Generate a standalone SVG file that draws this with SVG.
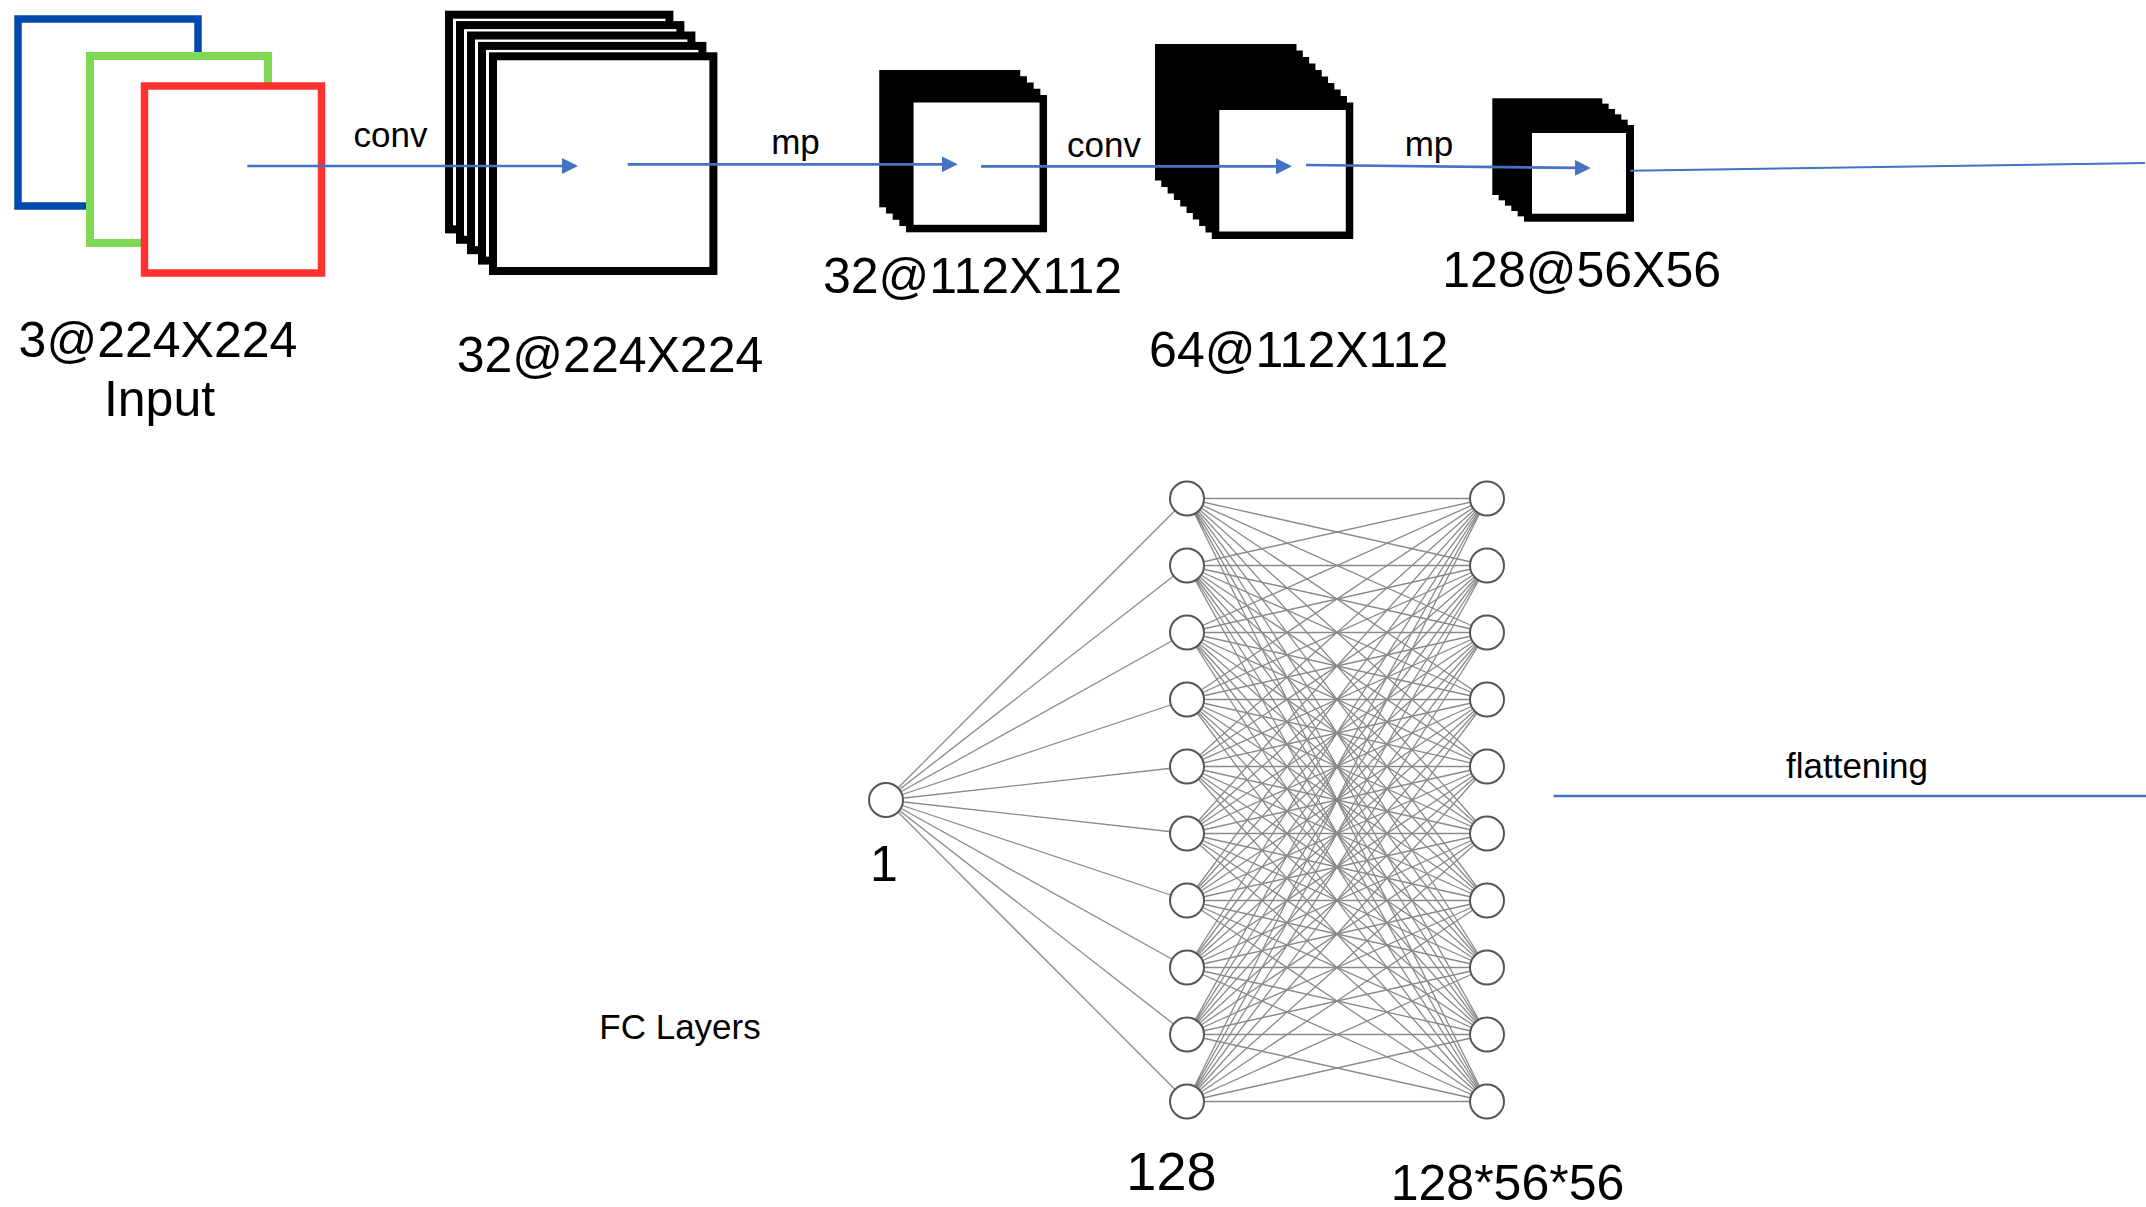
<svg xmlns="http://www.w3.org/2000/svg" width="2146" height="1207" viewBox="0 0 2146 1207">
<style>
text{font-family:"Liberation Sans",Arial,sans-serif;fill:#000;text-anchor:middle}
.big{font-size:50px}
.sm{font-size:35px}
.f1{fill:#fff;stroke:#000;stroke-width:8}
.f2{fill:#fff;stroke:#000;stroke-width:7.5}
.arr{stroke:#4472C4;stroke-width:2.7;fill:none;marker-end:url(#ah)}
.ln{stroke:#4472C4;fill:none}
.e{stroke:#8a8a8a;stroke-width:1.3;fill:none}
.nd{fill:#fff;stroke:#555;stroke-width:2}
</style>
<defs>
<marker id="ah" markerUnits="userSpaceOnUse" markerWidth="16" markerHeight="16" refX="4" refY="8" orient="auto">
<path d="M0,0 L16,8 L0,16 Z" fill="#4472C4"/>
</marker>
<linearGradient id="fade" x1="0" y1="0" x2="0" y2="1">
<stop offset="0" stop-color="#4472C4"/>
<stop offset="0.5" stop-color="#4472C4" stop-opacity="0.8"/>
<stop offset="1" stop-color="#4472C4" stop-opacity="0"/>
</linearGradient>
</defs>
<rect width="2146" height="1207" fill="#fff"/>

<g id="input">
<rect x="18" y="19" width="180" height="187" fill="#fff" stroke="#004AAD" stroke-width="7.5"/>
<rect x="90" y="56" width="178" height="187" fill="#fff" stroke="#7ED957" stroke-width="8"/>
<rect x="144.5" y="86" width="177" height="187" fill="#fff" stroke="#FF3131" stroke-width="7.5"/>
<text class="big" x="158" y="357">3@224X224</text>
<text class="big" x="159.5" y="416">Input</text>
</g>

<g id="conv1">
<rect class="f1" x="449" y="14.7" width="220.4" height="214.7"/>
<rect class="f1" x="460" y="25.1" width="220.4" height="214.7"/>
<rect class="f1" x="471" y="35.5" width="220.4" height="214.7"/>
<rect class="f1" x="482" y="45.9" width="220.4" height="214.7"/>
<rect class="f1" x="493" y="56.3" width="220.4" height="214.7"/>
<text class="big" x="610" y="372">32@224X224</text>
</g>

<g id="pool1">
<rect class="f2" x="883" y="73.75" width="133.5" height="129.8"/>
<rect class="f2" x="889.7" y="80" width="133.5" height="129.8"/>
<rect class="f2" x="896.4" y="86.25" width="133.5" height="129.8"/>
<rect class="f2" x="903.1" y="92.5" width="133.5" height="129.8"/>
<rect class="f2" x="909.8" y="98.75" width="133.5" height="129.8"/>
<text class="big" x="972.5" y="293">32@112X112</text>
</g>

<g id="conv2">
<rect class="f2" x="1158.75" y="47.75" width="134" height="129"/>
<rect class="f2" x="1165.06" y="54.25" width="134" height="129"/>
<rect class="f2" x="1171.37" y="60.75" width="134" height="129"/>
<rect class="f2" x="1177.68" y="67.25" width="134" height="129"/>
<rect class="f2" x="1183.99" y="73.75" width="134" height="129"/>
<rect class="f2" x="1190.3" y="80.25" width="134" height="129"/>
<rect class="f2" x="1196.61" y="86.75" width="134" height="129"/>
<rect class="f2" x="1202.92" y="93.25" width="134" height="129"/>
<rect class="f2" x="1209.23" y="99.75" width="134" height="129"/>
<rect class="f2" x="1215.54" y="106.25" width="134" height="129"/>
<text class="big" x="1298.7" y="366.7">64@112X112</text>
</g>

<g id="pool2">
<rect class="f1" x="1496.3" y="102.3" width="102" height="88.7"/>
<rect class="f1" x="1502.64" y="107.64" width="102" height="88.7"/>
<rect class="f1" x="1508.98" y="112.98" width="102" height="88.7"/>
<rect class="f1" x="1515.32" y="118.32" width="102" height="88.7"/>
<rect class="f1" x="1521.66" y="123.66" width="102" height="88.7"/>
<rect class="f1" x="1528" y="129" width="102" height="88.7"/>
<text class="big" x="1581.7" y="286.7">128@56X56</text>
</g>

<g id="connectors">
<line class="arr" x1="247.3" y1="166" x2="566" y2="166"/>
<line class="arr" x1="627.7" y1="164.3" x2="945.8" y2="164.3"/>
<line class="arr" x1="981" y1="166.3" x2="1280" y2="166.3"/>
<line class="arr" x1="1306" y1="165" x2="1578.7" y2="167.9"/>
<line class="ln" stroke-width="2" x1="1630" y1="170.7" x2="2145" y2="163"/>
<line x1="2144.5" y1="157" x2="2144.5" y2="272" stroke="url(#fade)" stroke-width="2.5"/>
<line class="ln" stroke-width="2.7" x1="1553.6" y1="796" x2="2146" y2="796"/>
<text class="sm" x="390.5" y="147.3">conv</text>
<text class="sm" x="795.5" y="154">mp</text>
<text class="sm" x="1104" y="156.7">conv</text>
<text class="sm" x="1429" y="155.7">mp</text>
<text class="sm" x="1857" y="778">flattening</text>
</g>

<g id="fc-edges">
<path class="e" d="M886 800L1187 498.5M886 800L1187 565.5M886 800L1187 632.5M886 800L1187 699.5M886 800L1187 766.5M886 800L1187 833.5M886 800L1187 900.5M886 800L1187 967.5M886 800L1187 1034.5M886 800L1187 1101.5"/>
<path class="e" d="M1187 498.5L1487 498.5M1187 498.5L1487 565.5M1187 498.5L1487 632.5M1187 498.5L1487 699.5M1187 498.5L1487 766.5M1187 498.5L1487 833.5M1187 498.5L1487 900.5M1187 498.5L1487 967.5M1187 498.5L1487 1034.5M1187 498.5L1487 1101.5"/>
<path class="e" d="M1187 565.5L1487 498.5M1187 565.5L1487 565.5M1187 565.5L1487 632.5M1187 565.5L1487 699.5M1187 565.5L1487 766.5M1187 565.5L1487 833.5M1187 565.5L1487 900.5M1187 565.5L1487 967.5M1187 565.5L1487 1034.5M1187 565.5L1487 1101.5"/>
<path class="e" d="M1187 632.5L1487 498.5M1187 632.5L1487 565.5M1187 632.5L1487 632.5M1187 632.5L1487 699.5M1187 632.5L1487 766.5M1187 632.5L1487 833.5M1187 632.5L1487 900.5M1187 632.5L1487 967.5M1187 632.5L1487 1034.5M1187 632.5L1487 1101.5"/>
<path class="e" d="M1187 699.5L1487 498.5M1187 699.5L1487 565.5M1187 699.5L1487 632.5M1187 699.5L1487 699.5M1187 699.5L1487 766.5M1187 699.5L1487 833.5M1187 699.5L1487 900.5M1187 699.5L1487 967.5M1187 699.5L1487 1034.5M1187 699.5L1487 1101.5"/>
<path class="e" d="M1187 766.5L1487 498.5M1187 766.5L1487 565.5M1187 766.5L1487 632.5M1187 766.5L1487 699.5M1187 766.5L1487 766.5M1187 766.5L1487 833.5M1187 766.5L1487 900.5M1187 766.5L1487 967.5M1187 766.5L1487 1034.5M1187 766.5L1487 1101.5"/>
<path class="e" d="M1187 833.5L1487 498.5M1187 833.5L1487 565.5M1187 833.5L1487 632.5M1187 833.5L1487 699.5M1187 833.5L1487 766.5M1187 833.5L1487 833.5M1187 833.5L1487 900.5M1187 833.5L1487 967.5M1187 833.5L1487 1034.5M1187 833.5L1487 1101.5"/>
<path class="e" d="M1187 900.5L1487 498.5M1187 900.5L1487 565.5M1187 900.5L1487 632.5M1187 900.5L1487 699.5M1187 900.5L1487 766.5M1187 900.5L1487 833.5M1187 900.5L1487 900.5M1187 900.5L1487 967.5M1187 900.5L1487 1034.5M1187 900.5L1487 1101.5"/>
<path class="e" d="M1187 967.5L1487 498.5M1187 967.5L1487 565.5M1187 967.5L1487 632.5M1187 967.5L1487 699.5M1187 967.5L1487 766.5M1187 967.5L1487 833.5M1187 967.5L1487 900.5M1187 967.5L1487 967.5M1187 967.5L1487 1034.5M1187 967.5L1487 1101.5"/>
<path class="e" d="M1187 1034.5L1487 498.5M1187 1034.5L1487 565.5M1187 1034.5L1487 632.5M1187 1034.5L1487 699.5M1187 1034.5L1487 766.5M1187 1034.5L1487 833.5M1187 1034.5L1487 900.5M1187 1034.5L1487 967.5M1187 1034.5L1487 1034.5M1187 1034.5L1487 1101.5"/>
<path class="e" d="M1187 1101.5L1487 498.5M1187 1101.5L1487 565.5M1187 1101.5L1487 632.5M1187 1101.5L1487 699.5M1187 1101.5L1487 766.5M1187 1101.5L1487 833.5M1187 1101.5L1487 900.5M1187 1101.5L1487 967.5M1187 1101.5L1487 1034.5M1187 1101.5L1487 1101.5"/>
</g>

<g id="fc-input">
<circle id="in0" class="nd" cx="886" cy="800" r="17"/>
<text class="big" x="884" y="881">1</text>
</g>

<g id="fc-hidden">
<circle id="h0" class="nd" cx="1187" cy="498.5" r="17"/>
<circle id="h1" class="nd" cx="1187" cy="565.5" r="17"/>
<circle id="h2" class="nd" cx="1187" cy="632.5" r="17"/>
<circle id="h3" class="nd" cx="1187" cy="699.5" r="17"/>
<circle id="h4" class="nd" cx="1187" cy="766.5" r="17"/>
<circle id="h5" class="nd" cx="1187" cy="833.5" r="17"/>
<circle id="h6" class="nd" cx="1187" cy="900.5" r="17"/>
<circle id="h7" class="nd" cx="1187" cy="967.5" r="17"/>
<circle id="h8" class="nd" cx="1187" cy="1034.5" r="17"/>
<circle id="h9" class="nd" cx="1187" cy="1101.5" r="17"/>
<text x="1171.4" y="1190" style="font-size:54px">128</text>
</g>

<g id="fc-flat">
<circle id="f0" class="nd" cx="1487" cy="498.5" r="17"/>
<circle id="f1" class="nd" cx="1487" cy="565.5" r="17"/>
<circle id="f2" class="nd" cx="1487" cy="632.5" r="17"/>
<circle id="f3" class="nd" cx="1487" cy="699.5" r="17"/>
<circle id="f4" class="nd" cx="1487" cy="766.5" r="17"/>
<circle id="f5" class="nd" cx="1487" cy="833.5" r="17"/>
<circle id="f6" class="nd" cx="1487" cy="900.5" r="17"/>
<circle id="f7" class="nd" cx="1487" cy="967.5" r="17"/>
<circle id="f8" class="nd" cx="1487" cy="1034.5" r="17"/>
<circle id="f9" class="nd" cx="1487" cy="1101.5" r="17"/>
<text class="big" x="1507.5" y="1200">128*56*56</text>
</g>

<g id="fc-label">
<text class="sm" x="680" y="1039">FC Layers</text>
</g>
</svg>
